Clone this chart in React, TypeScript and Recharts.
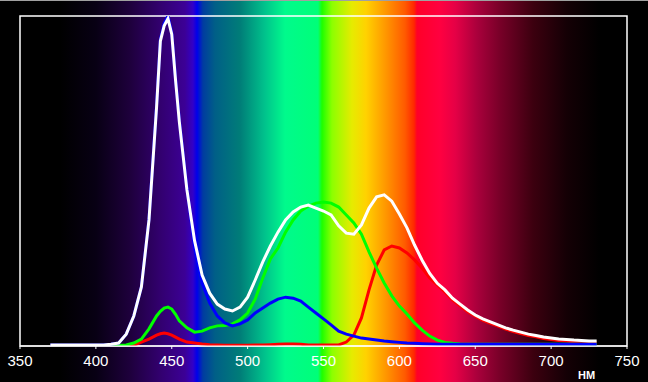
import { LineChart, Line, XAxis, YAxis, ReferenceArea } from "recharts"

// wavelength, nm
const wavelengths = [
    370, 375, 380, 385, 390, 395, 400, 405, 410, 415, 420, 425, 430, 435, 440, 442.5, 445, 447.5, 450, 452.5, 455,
    460, 465, 470, 475, 480, 485, 490, 495, 500, 505, 510, 515, 520, 525, 530, 535, 540, 545, 550, 555, 560, 565,
    570, 575, 580, 585, 590, 595, 600, 605, 610, 615, 620, 625, 630, 635, 640, 645, 650, 655, 660, 665, 670, 675,
    680, 685, 690, 695, 700, 705, 710, 715, 720, 725, 730,
]

const whiteSeries = [
    0.3, 0.3, 0.3, 0.3, 0.3, 0.3, 0.3, 0.3, 0.5, 0.9, 3.6, 9.1, 17.9, 38.2, 72.4, 92.4, 97, 99.2, 94.5, 80.6, 67.9,
    47.3, 32, 21.5, 16, 12.7, 11.2, 10.6, 11.8, 14.8, 20, 25.5, 30.3, 34.5, 38.2, 40.6, 42.1, 42.7, 41.8, 40.9, 39.7, 36.4, 34.2,
    33.9, 36.7, 41.8, 45.2, 45.8, 43.9, 40, 35.8, 30.6, 26, 22, 19, 17, 14.5, 12.7, 10.9, 9.4, 8.2, 7.3, 6.4, 5.5, 4.8,
    4.2, 3.6, 3.2, 2.7, 2.4, 2.1, 2.0, 1.8, 1.7, 1.5, 1.5,
]

const blueSeries = [
    0.3, 0.3, 0.3, 0.3, 0.3, 0.3, 0.3, 0.3, 0.5, 0.9, 3.6, 9.1, 17.9, 38.5, 73, 93, 97.8, 100, 95, 81.2, 68.5,
    48, 30, 19, 13, 9.1, 7, 6.1, 6.7, 7.9, 10, 11.5, 13, 14.2, 14.8, 14.5, 13.6, 11.8, 10, 8.2, 6.4, 4.5, 3.6,
    3, 2.4, 2.1, 1.8, 1.5, 1.3, 1.1, 0.9, 0.8, 0.7, 0.6, 0.5, 0.5, 0.5, 0.5, 0.5, 0.5, 0.5, 0.5, 0.5, 0.5, 0.5,
    0.5, 0.5, 0.5, 0.5, 0.5, 0.5, 0.5, 0.5, 0.5, 0.5, 0.5,
]

const greenSeries = [
    null, null, null, null, null, null, null, 0, 0, 0.2, 0.3, 0.9, 2.1, 5.2, 9.1, 10.5, 11.5, 11.8, 11.2, 9.6, 7.6,
    5.5, 4.2, 4.5, 5.5, 6.1, 6.2, 6.7, 7.9, 10, 14.2, 20.6, 26.4, 29.7, 34.5, 38.2, 40.9, 42.4, 43.3, 43.6, 43.3, 42.1, 39.7,
    37.3, 33.9, 28.5, 23.6, 19.1, 15.2, 12.1, 9.7, 7, 4.8, 3, 1.8, 1.1, 0.8, 0.6, 0.5, 0.5, 0.5, 0.5, 0.5, 0.5, 0.5,
    0.5, 0.5, 0.5, 0.5, 0.5, 0.5, 0.5, 0.5, 0.5, 0.5, 0.5,
]

const redSeries = [
    null, null, null, null, null, null, null, null, null, null, 0, 0.2, 1.2, 2.1, 3.3, 3.7, 3.9, 3.7, 3.3, 2.7, 2.1,
    1.2, 0.9, 0.6, 0.4, 0.3, 0.2, 0.2, 0.2, 0.2, 0.3, 0.3, 0.4, 0.5, 0.6, 0.6, 0.5, 0.3, 0.3, 0.3, 0.3, 0.3, 1.2,
    3.3, 8.5, 17, 24.5, 29.1, 30.3, 29.7, 28.2, 26.1, 23.6, 20.6, 18.5, 16.4, 14, 12.2, 10.4, 9, 7.8, 6.9, 6, 5.1, 4.4,
    3.8, 3.2, 2.8, 2.3, 2, 1.7, 1.5, 1.3, 1.2, 1.0, 1.0,
]

const xTicks = [350, 400, 450, 500, 550, 600, 650, 700, 750]

const data = wavelengths.map((nm, i) => ({
    nm,
    white: whiteSeries[i],
    blue: blueSeries[i],
    green: greenSeries[i],
    red: redSeries[i],
}))

const spectrum = [
    "#000000 0px",
    "#000000 60px",
    "rgb(8,0,20) 96px",
    "rgb(30,0,60) 130px",
    "rgb(50,0,110) 160px",
    "rgb(60,0,150) 185px",
    "rgb(50,0,200) 193px",
    "rgb(0,0,235) 197px",
    "rgb(0,60,160) 203px",
    "rgb(0,95,135) 215px",
    "rgb(0,125,120) 240px",
    "rgb(0,195,140) 265px",
    "rgb(0,250,140) 285px",
    "rgb(0,255,120) 318px",
    "rgb(30,255,0) 322px",
    "rgb(140,255,0) 332px",
    "rgb(230,235,0) 352px",
    "rgb(255,210,0) 366px",
    "rgb(255,150,0) 386px",
    "rgb(255,90,0) 405px",
    "rgb(255,40,0) 414px",
    "rgb(255,0,40) 417px",
    "rgb(255,0,64) 440px",
    "rgb(230,0,70) 455px",
    "rgb(170,0,60) 477px",
    "rgb(120,0,40) 500px",
    "rgb(60,0,15) 533px",
    "rgb(20,0,5) 567px",
    "#000000 600px",
].join(", ")

const tickStyle = { fontSize: 15, fill: "#ffffff", fontFamily: "Liberation Sans, Arial, sans-serif" }

export default function App() {
    return (
        <div
            style={{
                position: "fixed",
                left: 0,
                top: 0,
                width: 648,
                height: 382,
                background: `linear-gradient(to right, ${spectrum})`,
                overflow: "hidden",
            }}
        >
            <div style={{ position: "absolute", left: 0, top: 0, width: 648, height: 1, background: "#a0a0a0" }} />
            <LineChart width={648} height={382} data={data} margin={{ top: 16, right: 21, left: 20, bottom: 0 }}>
                <XAxis
                    dataKey="nm"
                    type="number"
                    domain={[350, 750]}
                    ticks={xTicks}
                    height={36}
                    tick={tickStyle}
                    tickSize={3}
                    tickMargin={6}
                    stroke="#ffffff"
                    allowDataOverflow
                />
                <YAxis hide domain={[0, 100]} allowDataOverflow />
                <ReferenceArea x1={350} x2={750} y1={0} y2={100} fill="none" stroke="#ffffff" strokeWidth={1.5} />
                <Line dataKey="red" stroke="#ff0000" strokeWidth={3} dot={false} type="linear" isAnimationActive={false} />
                <Line dataKey="green" stroke="#00ff00" strokeWidth={3} dot={false} type="linear" isAnimationActive={false} />
                <Line dataKey="blue" stroke="#0000ff" strokeWidth={3} dot={false} type="linear" isAnimationActive={false} />
                <Line dataKey="white" stroke="#ffffff" strokeWidth={3} dot={false} type="linear" isAnimationActive={false} />
            </LineChart>
            <div
                style={{
                    position: "absolute",
                    left: 578,
                    top: 369,
                    fontFamily: "Liberation Sans, Arial, sans-serif",
                    fontWeight: "bold",
                    fontSize: 11,
                    color: "#ffffff",
                    lineHeight: "13px",
                }}
            >
                НМ
            </div>
        </div>
    )
}
